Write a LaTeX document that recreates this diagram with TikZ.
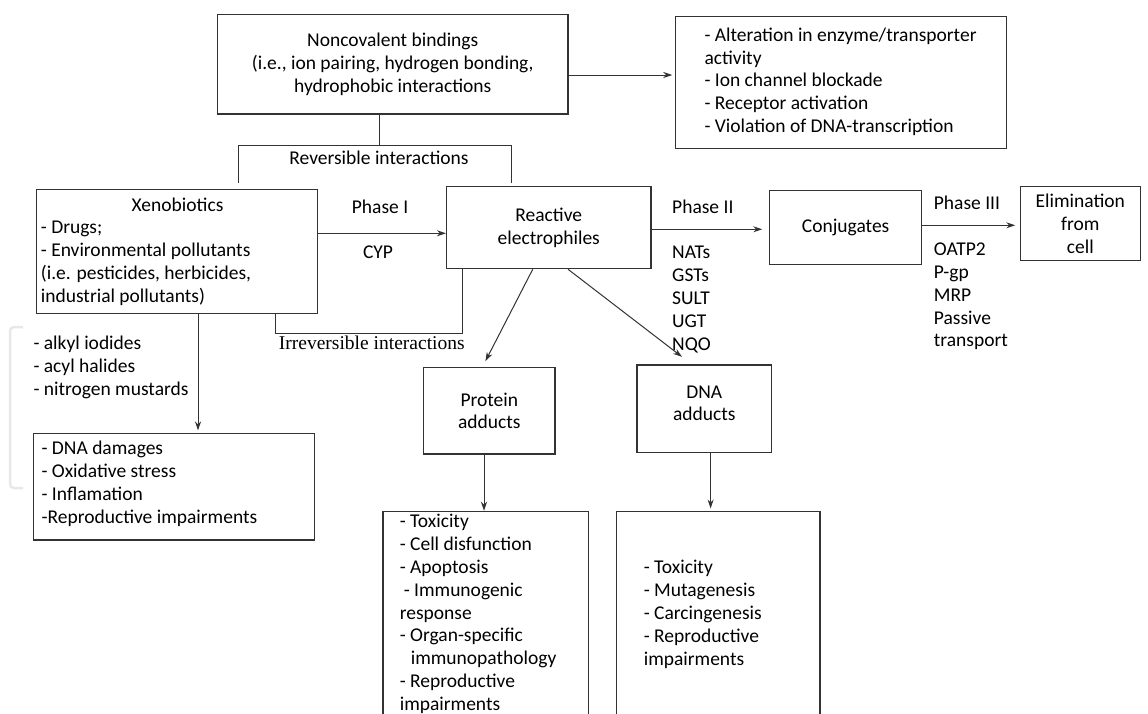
\documentclass[tikz,border=0pt]{standalone}
\usepackage{fontspec}
\setmainfont{Carlito}
\newfontfamily\irrfont{Liberation Serif}
\usetikzlibrary{arrows.meta,calc}
\tikzset{
  box/.style={draw=black!80, line width=1.1pt, inner sep=0pt, align=center,
    font=\fontsize{19.5}{22.8}\selectfont},
  lst/.style={align=left, anchor=north west, inner sep=0pt,
    font=\fontsize{19.5}{22.8}\selectfont},
  lab/.style={anchor=base, inner sep=0pt, font=\fontsize{19.5}{22.8}\selectfont},
  conn/.style={draw=black!80, line width=1pt},
  arr/.style={conn, -{Stealth[length=9pt,width=6pt]}}
}
\begin{document}
\begin{tikzpicture}[x=1pt,y=-1pt]
\useasboundingbox (0,0) rectangle (1148,713);
\clip (0,0) rectangle (1148,713);
\fill[white] (0,0) rectangle (1148,713);
% faint bracket at left
\draw[black!9, line width=2.5pt, rounded corners=4pt] (23,327) -- (10,327) -- (10,488) -- (23,488);

% boxes
\node[box, minimum width=350.5pt, minimum height=99.7pt] (nc) at (392.75,64.15)
  {Noncovalent bindings\\(i.e., ion pairing, hydrogen bonding,\\hydrophobic interactions};
\node[box, minimum width=330.8pt, minimum height=131.6pt] (eff) at (841.2,82.5) {};
\node[box, minimum width=281.1pt, minimum height=123.6pt] (xeno) at (176.85,251.5) {};
\node[box, minimum width=204.5pt, minimum height=82pt] (re) at (548.75,227.7)
  {Reactive\\electrophiles};
\node[box, minimum width=151.6pt, minimum height=73.6pt] (conj) at (845.6,227.5) {Conjugates};
\node[box, minimum width=119.5pt, minimum height=73.3pt] (elim) at (1080.35,223.5)
  {Elimination\\from\\cell};
\node[box, minimum width=281.5pt, minimum height=106.3pt] (dmg) at (174.05,486.85) {};
\node[box, minimum width=131.4pt, minimum height=86.3pt] (prot) at (489.3,410.85) {Protein\\adducts};
\node[box, minimum width=134.2pt, minimum height=87.3pt] (dna) at (704.1,408.65) {};
\node[box, minimum width=205.9pt, minimum height=218.7pt] (peff) at (485.95,620.65) {};
\node[box, minimum width=203.8pt, minimum height=218.7pt] (deff) at (718.1,620.65) {};

% texts
\node[lst] (efft) at (704.3,25.2) {\strut- Alteration in enzyme/transporter\\activity\\- Ion channel blockade\\- Receptor activation\\- Violation of DNA-transcription};
\node[lab] (xenot) at (177.6,211.2) {Xenobiotics};
\node[lst] (xenol) at (40.7,217.8) {\strut- Drugs;\\- Environmental pollutants\\(i.e. pesticides, herbicides,\\industrial pollutants)};
\node[lst] (alk) at (33.3,333.8) {\strut- alkyl iodides\\- acyl halides\\- nitrogen mustards};
\node[lst] (dmgt) at (41.4,438.8) {\strut- DNA damages\\- Oxidative stress\\- Inflamation\\-Reproductive impairments};
\node[lab] (dnat) at (704.3,398.2) {DNA};
\node[lab] (dnat2) at (704.3,420.8) {adducts};
\node[lst] (pefft) at (399.6,511.8) {\strut- Toxicity\\- Cell disfunction\\- Apoptosis\\\hspace{4pt}- Immunogenic\\response\\- Organ-specific\\\hspace{11pt}immunopathology\\- Reproductive\\impairments};
\node[lst] (defft) at (643.6,557.8) {\strut- Toxicity\\- Mutagenesis\\- Carcingenesis\\- Reproductive\\impairments};
\node[lab] (ph1) at (380,213.2) {Phase I};
\node[lab] (cyp) at (378,258.8) {CYP};
\node[lab, anchor=base west] (ph2) at (672,213.2) {Phase II};
\node[lst] (enz2) at (672,242.8) {\strut NATs\\GSTs\\SULT\\UGT\\NQO};
\node[lab, anchor=base west] (ph3) at (933.7,209.8) {Phase III};
\node[lst] (enz3) at (933.7,239.5) {\strut OATP2\\P-gp\\MRP\\Passive\\transport};
\node[lab] (revlab) at (379,164.5) {Reversible interactions};
\node[lab, font=\fontsize{19.5}{22.8}\irrfont] (irrlab) at (371.8,349.8) {Irreversible interactions};

% reversible bracket
\coordinate (rj) at (379,145.7);
\coordinate (rl) at (238,182.7);
\coordinate (rr) at (511.7,182.7);
\draw[conn] (nc.south -| rj) -- (rj);
\draw[conn] (rl) |- (rj) -| (rr);

% irreversible bracket
\coordinate (irrL) at (275.6,333.3);
\coordinate (irrR) at (462.5,333.3);
\draw[conn] (xeno.south -| irrL) -- (irrL) -- (irrR) -- (re.south -| irrR);

% arrows
\draw[arr, shorten >=3pt] ([yshift=-10.85pt]nc.east) -- ([yshift=-10.85pt]nc.east -| eff.west);
\draw[arr] ([yshift=-5.6pt]re.west -| xeno.east) -- ([yshift=-5.6pt]re.west);
\draw[arr, shorten >=7pt] ([yshift=-1.6pt]re.east) -- ([yshift=-1.6pt]re.east -| conj.west);
\draw[arr, shorten >=4.8pt] ([yshift=2.2pt]conj.east) -- ([yshift=2.2pt]conj.east -| elim.west);
\draw[arr, shorten >=6.7pt] ([xshift=-16pt]re.south) -- ([xshift=-6.95pt]prot.north);
\draw[arr, shorten >=12.5pt] ([xshift=19.25pt]re.south) -- ([xshift=-12.2pt]dna.north);
\draw[arr, shorten >=2.7pt] ([xshift=21.15pt]xeno.south) -- ([xshift=21.15pt]xeno.south |- dmg.north);
\draw[arr] ([xshift=-5.3pt]prot.south) -- ([xshift=-5.3pt]prot.south |- peff.north);
\draw[arr, shorten >=2.3pt] ([xshift=6.5pt]dna.south) -- ([xshift=6.5pt]dna.south |- deff.north);
\end{tikzpicture}
\end{document}
